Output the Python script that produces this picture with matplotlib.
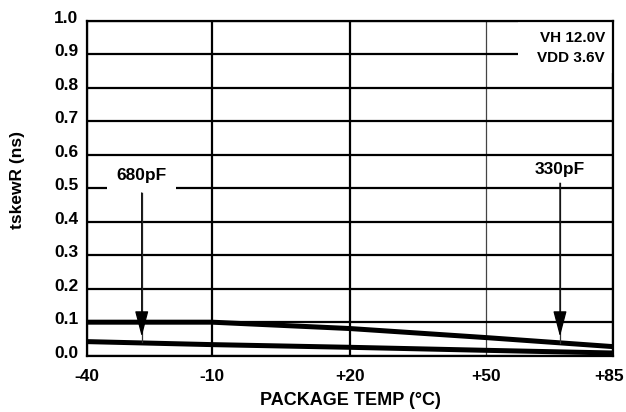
import matplotlib
matplotlib.use("Agg")
import matplotlib.pyplot as plt
import matplotlib.transforms as mtransforms
from matplotlib.patches import Rectangle

plt.rcParams['font.family'] = ['Liberation Sans', 'DejaVu Sans']
plt.rcParams['font.weight'] = 'bold'

# temperature ticks (drawn as roughly equal steps, like the datasheet)
temps = ['-40', '-10', '+20', '+50', '+85']
temp_pos = [0, 0.952, 2.0, 3.033, 4]

# tskewR (ns)
upper = [0.100, 0.100, 0.081, 0.054, 0.027]
lower = [0.042, 0.033, 0.025, 0.016, 0.008]

yticks = [0.0, 0.1, 0.2, 0.3, 0.4, 0.5, 0.6, 0.7, 0.8, 0.9, 1.0]

fig = plt.figure(figsize=(6.26, 4.12), dpi=100)
ax = fig.add_axes([0.1385, 0.1367, 0.8412, 0.8131])

ax.plot(temp_pos, upper, color='black', lw=3.6, solid_capstyle='butt', zorder=4)
ax.plot(temp_pos, lower, color='black', lw=3.6, solid_capstyle='butt', zorder=4)

ax.set_xlim(0, 4)
ax.set_ylim(0, 1.0)
ax.set_xticks(temp_pos)
ax.set_xticklabels(temps)
ax.set_yticks(yticks)
ax.set_yticklabels(['%.1f' % v for v in yticks])
ax.tick_params(length=0, labelsize=12.5, pad=6)
ax.tick_params(axis='x', pad=9.5)

# nudge y labels up a bit, as in the original
off = mtransforms.ScaledTranslation(0, 4 / 100, fig.dpi_scale_trans)
for lab in ax.get_yticklabels():
    lab.set_transform(lab.get_transform() + off)
# last x label sits tight against the right edge
xl = ax.get_xticklabels()[-1]
xl.set_transform(xl.get_transform() +
                 mtransforms.ScaledTranslation(-4 / 100, 0, fig.dpi_scale_trans))

ax.grid(True, color='black', lw=1.6)
ax.get_xgridlines()[3].set_linewidth(0.9)
ax.get_xgridlines()[3].set_color('#444444')
for s in ax.spines.values():
    s.set_linewidth(1.6)

ax.set_xlabel('PACKAGE TEMP (°C)', fontsize=13, fontweight='bold')
ax.set_ylabel('tskewR (ns)', fontsize=12.5, fontweight='bold')
ax.yaxis.set_label_coords(-0.117, 0.524)
ax.xaxis.set_label_coords(0.5, -0.107)

# condition box
ax.add_patch(Rectangle((0.819, 0.844), 0.181, 0.156, transform=ax.transAxes,
                       facecolor='white', edgecolor='none', zorder=2))
ax.text(0.984, 0.918, 'VH 12.0V\nVDD 3.6V', transform=ax.transAxes, ha='right',
        va='center', fontsize=11, fontweight='bold', linespacing=1.55, zorder=5)

# capacitance callouts
ax.text(0.418, 0.538, '680pF', ha='center', va='center', fontsize=12.5,
        fontweight='bold', zorder=5,
        bbox=dict(boxstyle='square,pad=0.55', facecolor='white', edgecolor='none'))
ax.text(3.595, 0.556, '330pF', ha='center', va='center', fontsize=12.5,
        fontweight='bold', zorder=5)

for x, y0, y1 in [(0.418, 0.486, 0.040), (3.595, 0.515, 0.037)]:
    ax.plot([x, x], [y0, y1], color='#333333', lw=0.9, zorder=5)
    ax.annotate('', xy=(x, 0.057), xytext=(x, y0),
                arrowprops=dict(arrowstyle='-|>,head_length=1.6,head_width=0.42',
                                color='black', lw=0.9, mutation_scale=10,
                                shrinkA=0, shrinkB=0), zorder=6)

fig.savefig('out.png', dpi=100)
